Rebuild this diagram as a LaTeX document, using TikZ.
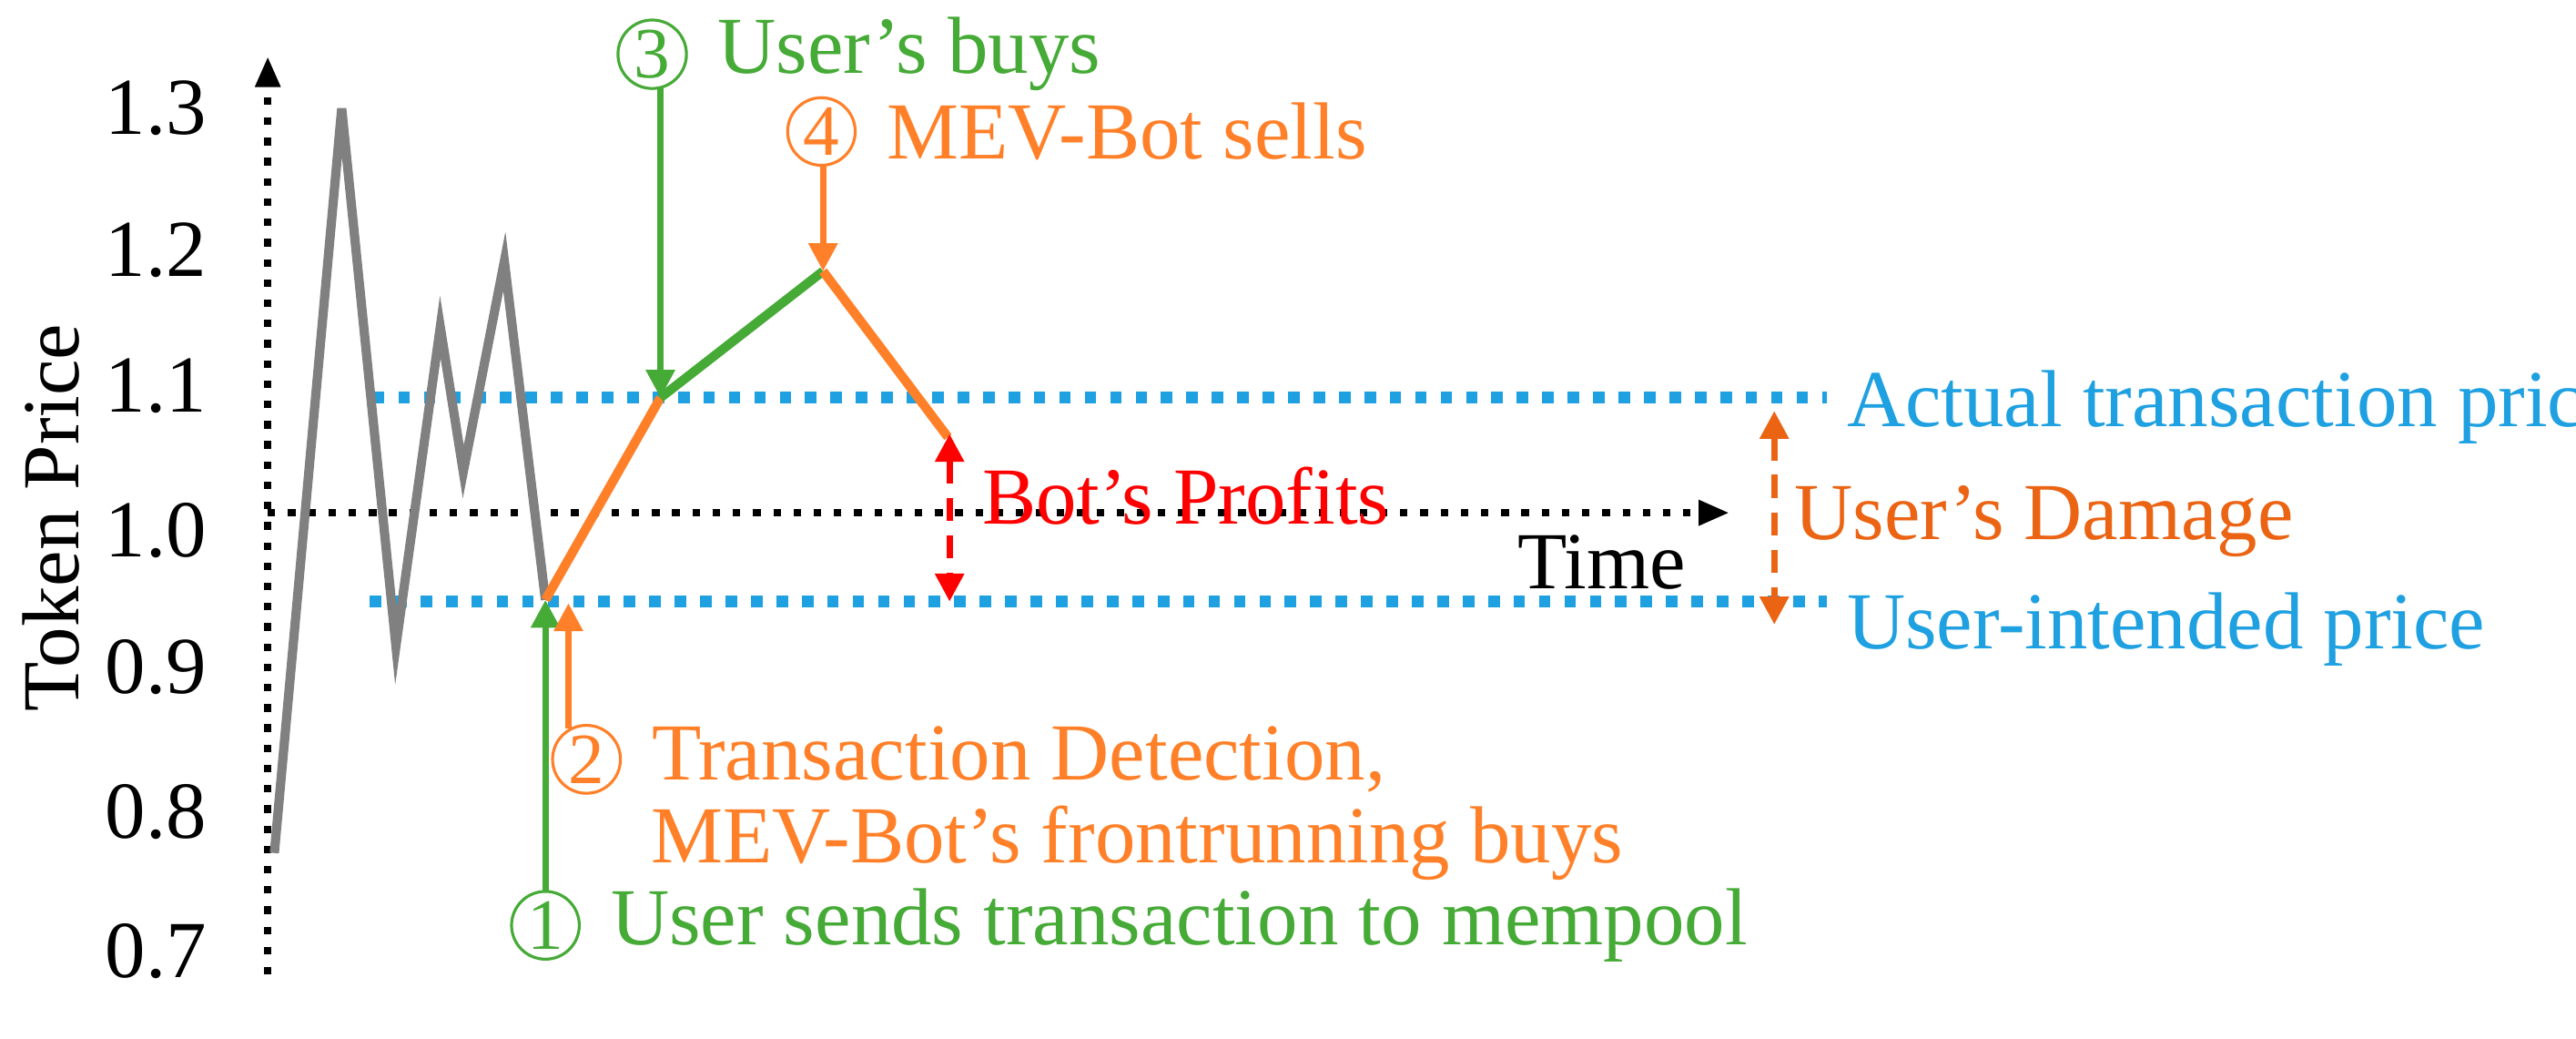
\documentclass[tikz,border=0pt]{standalone}
\usepackage{fontspec}
\setmainfont{LiberationSerif}[Extension=.ttf,UprightFont=*-Regular,BoldFont=*-Bold,ItalicFont=*-Italic,BoldItalicFont=*-BoldItalic]
\usetikzlibrary{arrows.meta}
\definecolor{cg}{RGB}{70,170,55}
\definecolor{co}{RGB}{255,128,40}
\definecolor{cb}{RGB}{30,160,225}
\definecolor{cr}{RGB}{255,0,0}
\definecolor{cd}{RGB}{235,100,20}
\definecolor{cgr}{RGB}{128,128,128}
\begin{document}
\begin{tikzpicture}[x=0.01cm,y=-0.01cm,
  txt/.style={font=\fontsize{14}{16}\selectfont,inner sep=1pt},
  lab/.style={txt,anchor=west,xshift=4pt},
  num/.style={circle,draw,line width=0.5pt,inner sep=0.5pt,minimum size=0.37cm,font=\fontsize{12.5}{13}\selectfont},
  tip/.style={-{Triangle[length=0.17cm,width=0.17cm]}},
  axis/.style={black,line width=1.3pt,dash pattern=on 1.3pt off 2.2pt},
  ref/.style={cb,line width=2pt,dash pattern=on 2pt off 2.4pt},
  arr/.style={line width=1.1pt,tip}]
\useasboundingbox (0,0) rectangle (1568,632);
% axes
\coordinate (yb) at (163,593); \coordinate (yt) at (163,35);
\coordinate (xl) at (163,312); \coordinate (xr) at (1052,312);
\draw[axis] (yb) -- (163,50);
\fill (yt) -- ++(-8,18) -- ++(16,0) -- cycle;
\draw[axis] (xl) -- (1035,312);
\fill (xr) -- ++(-18,-8) -- ++(0,16) -- cycle;
\node[txt] (time) at (975,342) {Time};
\foreach \v/\y in {1.3/66,1.2/152,1.1/235,1.0/323,0.9/406,0.8/494,0.7/579}
  \node[txt,anchor=east] (t\y) at (130,\y) {\v};
\node[txt,rotate=90] (tp) at (31,315) {Token Price};
% reference lines
\coordinate (ua) at (227,242); \coordinate (ub) at (1112,242);
\coordinate (la) at (225,366); \coordinate (lb) at (1112,366);
\draw[ref] (ua) -- (ub);
\draw[ref] (la) -- (lb);
\node[txt,anchor=west,text=cb] (act) at (1120,248) {Actual transaction price};
\node[txt,anchor=west,text=cb] (uip) at (1120,383) {User-intended price};
% price path
\coordinate (g0) at (167,519); \coordinate (g1) at (208,66);
\coordinate (g2) at (241,393); \coordinate (g3) at (268,199);
\coordinate (g4) at (282,287); \coordinate (g5) at (307,159);
\coordinate (p0) at (332,365); \coordinate (p1) at (402,242);
\coordinate (p2) at (501,165); \coordinate (p3) at (577,266);
\draw[cgr,line width=1.6pt,line join=miter] (g0)--(g1)--(g2)--(g3)--(g4)--(g5)--(p0);
\draw[co,line width=1.6pt] (p0)--(p1);
\draw[cg,line width=1.6pt] (p1)--(p2);
\draw[co,line width=1.6pt] (p2)--(p3);
% event arrows
\coordinate (a3) at (402,54); \draw[arr,cg] (a3) -- (p1);
\node[num,cg] (n3) at (397,33) {\color{cg}3};
\node[lab,text=cg] (l3) at (n3.east) {User’s buys};
\coordinate (a4) at (501,101); \draw[arr,co] (a4) -- (p2);
\node[num,co] (n4) at (500,80) {\color{co}4};
\node[lab,text=co] (l4) at (n4.east) {MEV-Bot sells};
\coordinate (a1) at (332,542); \draw[arr,cg] (a1) -- (p0);
\node[num,cg] (n1) at (332,563) {\color{cg}1};
\node[lab,text=cg] (l1) at (n1.east) {User sends transaction to mempool};
\coordinate (a2) at (346,443); \coordinate (a2t) at (346,367); \draw[arr,co] (a2) -- (a2t);
\node[num,co] (n2) at (357,462) {\color{co}2};
\node[lab,text=co] (l2) at (n2.east) {Transaction Detection,};
\node[txt,anchor=west,text=co] (l2b) at (392,513) {MEV-Bot’s frontrunning buys};
% profits / damage
\coordinate (r1) at (578,264); \coordinate (r2) at (578,366);
\draw[cr,line width=1.1pt,dash pattern=on 4pt off 2.5pt,{Triangle[length=0.17cm,width=0.17cm]}-{Triangle[length=0.17cm,width=0.17cm]}] (r1) -- (r2);
\node[txt,anchor=west,text=cr] (bp) at (594,302) {Bot’s Profits};
\coordinate (d1) at (1080,250); \coordinate (d2) at (1080,380);
\draw[cd,line width=1.1pt,dash pattern=on 4pt off 2.5pt,{Triangle[length=0.17cm,width=0.17cm]}-{Triangle[length=0.17cm,width=0.17cm]}] (d1) -- (d2);
\node[txt,anchor=west,text=cd] (ud) at (1088,317) {User’s Damage};
\end{tikzpicture}
\end{document}
